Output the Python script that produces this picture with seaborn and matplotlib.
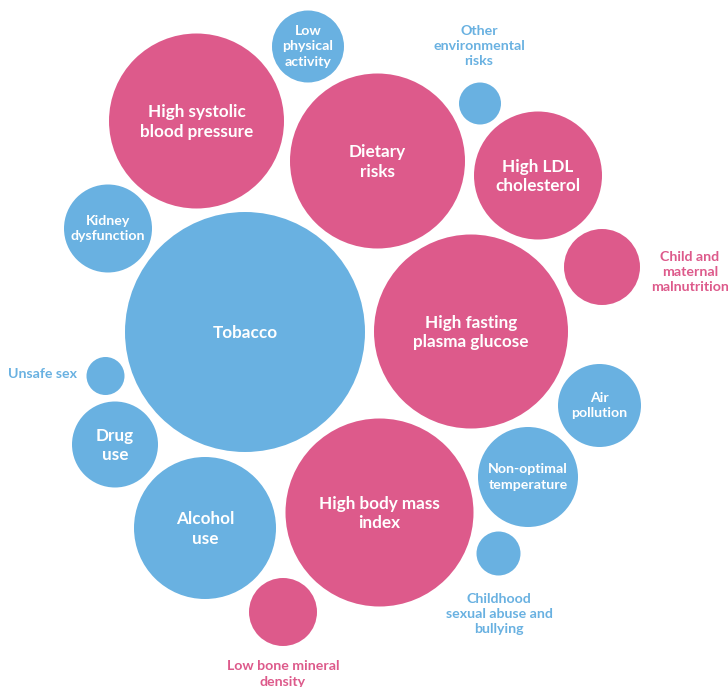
import pandas as pd
import matplotlib.pyplot as plt
import seaborn as sns

sns.set_style("white")
plt.rcParams['font.family'] = ['Lato', 'DejaVu Sans']

pink = "#DD5A8B"
blue = "#69B1E1"

# bubbles (pixel layout of the original figure)
risks = ["Tobacco", "High systolic\nblood pressure", "Low\nphysical\nactivity",
         "Other\nenvironmental\nrisks", "Dietary\nrisks", "High LDL\ncholesterol",
         "Child and\nmaternal\nmalnutrition", "Kidney\ndysfunction",
         "High fasting\nplasma glucose", "Unsafe sex", "Air\npollution", "Drug\nuse",
         "Non-optimal\ntemperature", "High body mass\nindex", "Alcohol\nuse",
         "Childhood\nsexual abuse and\nbullying", "Low bone mineral\ndensity"]
cx = [245, 196.5, 308, 480, 377.5, 538, 602, 108, 471, 105.5, 599.5, 115, 528, 379.5, 205, 498.5, 283]
cy = [332, 121, 46.5, 103.5, 161, 175.5, 267, 228.5, 331.5, 376, 405.5, 444.5, 477, 512.5, 528, 553.5, 612]
radius = [120, 87.5, 36, 21, 87.5, 64, 38, 44, 97, 19, 41.5, 43, 50, 94, 71, 22, 34]
group = ["behav", "metab", "behav", "behav", "metab", "metab", "metab", "behav", "metab",
         "behav", "behav", "behav", "behav", "metab", "behav", "behav", "metab"]

# labels that sit outside their bubble
outside = {"Other\nenvironmental\nrisks": (479, 46),
           "Child and\nmaternal\nmalnutrition": (690, 272),
           "Unsafe sex": (42, 374),
           "Childhood\nsexual abuse and\nbullying": (499, 614),
           "Low bone mineral\ndensity": (283, 674)}
big = ["Tobacco", "High systolic\nblood pressure", "Dietary\nrisks", "High LDL\ncholesterol",
       "High fasting\nplasma glucose", "Drug\nuse", "High body mass\nindex", "Alcohol\nuse"]

df = pd.DataFrame({"risk": risks, "x": cx, "y": cy, "r": radius, "group": group})
# marker area in points^2 so the diameter matches 2r pixels at 100 dpi
df["area"] = (2 * df["r"] * 0.72) ** 2

fig = plt.figure(figsize=(7.28, 6.87), dpi=100)
ax = fig.add_axes([0, 0, 1, 1])
amin, amax = df["area"].min(), df["area"].max()
sns.scatterplot(data=df, x="x", y="y", hue="group", palette={"metab": pink, "behav": blue},
                size="area", sizes=(amin, amax), size_norm=(amin, amax),
                linewidth=0, legend=False, ax=ax, alpha=1)
ax.set_xlim(0, 728)
ax.set_ylim(687, 0)
ax.set_axis_off()

for _, row in df.iterrows():
    col = pink if row["group"] == "metab" else blue
    if row["risk"] in outside:
        tx, ty = outside[row["risk"]]
        ax.text(tx, ty, row["risk"], color=col, ha="center", va="center",
                fontsize=10.2, fontweight="bold", linespacing=1.32)
    elif row["risk"] in big:
        ax.text(row["x"], row["y"] + 1, row["risk"], color="white", ha="center", va="center",
                fontsize=12.3, fontweight="bold", linespacing=1.28)
    else:
        ax.text(row["x"], row["y"], row["risk"], color="white", ha="center", va="center",
                fontsize=10.2, fontweight="bold", linespacing=1.32)

plt.savefig("out.png", dpi=100)
